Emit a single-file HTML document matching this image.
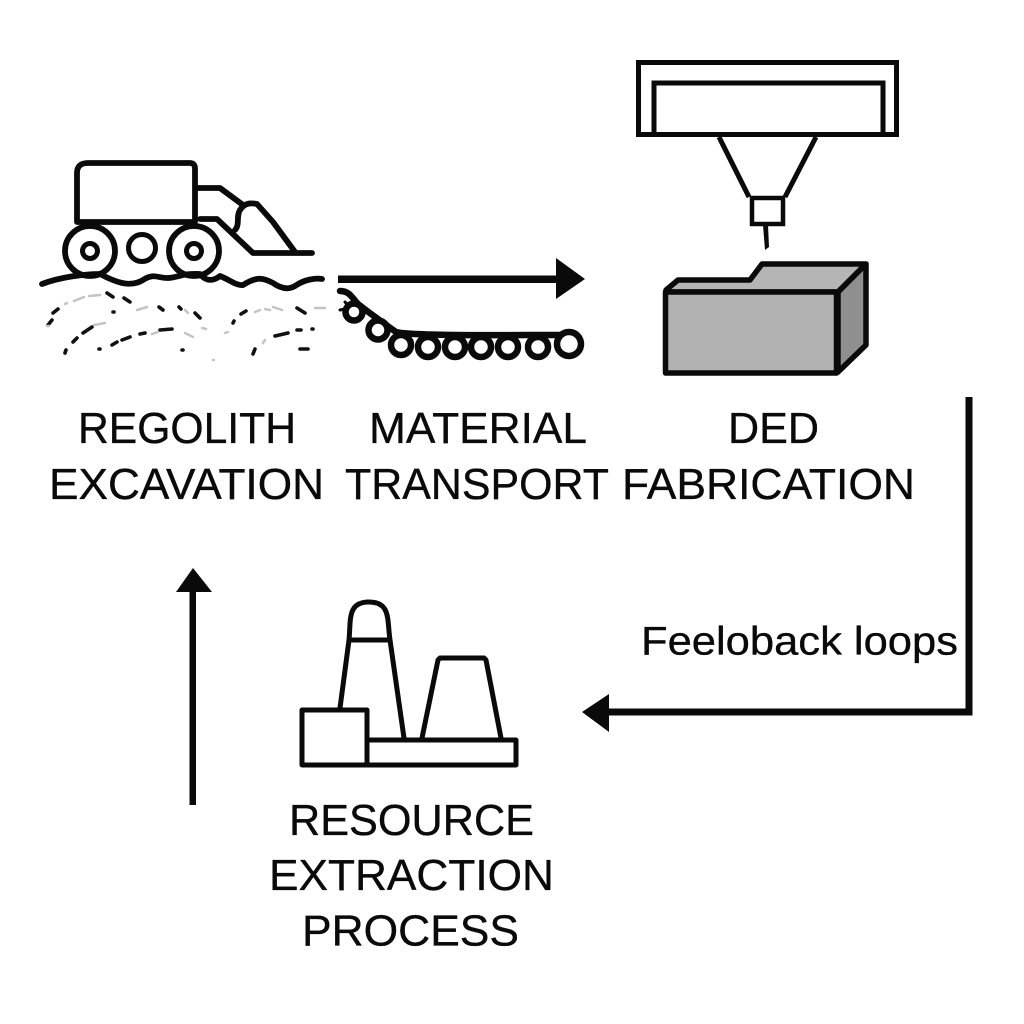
<!DOCTYPE html>
<html>
<head>
<meta charset="utf-8">
<style>
html,body{margin:0;padding:0;background:#fff;width:1024px;height:1024px;overflow:hidden}
svg{display:block}
text{font-family:"Liberation Sans",sans-serif;fill:#0a0a0a;stroke:#0a0a0a;stroke-width:.35px;font-size:44px}
</style>
</head>
<body>
<svg width="1024" height="1024" viewBox="0 0 1024 1024" xmlns="http://www.w3.org/2000/svg">
<rect width="1024" height="1024" fill="#fff"/>

<!-- Excavator -->
<g fill="none" stroke="#0a0a0a" stroke-width="5.800" stroke-linecap="round" stroke-linejoin="round">
  <path d="M77 222 V173 Q77 163 88 163 H190 Q195 163 195 169 V222 Z" fill="#fff"/>
  <circle cx="90" cy="251" r="25" fill="#fff"/>
  <circle cx="90" cy="251" r="7.500" stroke-width="5"/>
  <ellipse cx="142" cy="248" rx="13.500" ry="13.500" stroke-width="5"/>
  <circle cx="194" cy="251" r="25" fill="#fff"/>
  <circle cx="194" cy="251" r="7.500" stroke-width="5"/>
  <path d="M198 188 H220 L243 205"/>
  <path d="M200 219 H217 L253 253 H312"/>
  <path d="M235 230 C240 225 236 216 240 210 C245 202 252 203 257 204 L273 222 L295 252"/>
  <path d="M42 284 C60 277 85 274 100 274 C115 282 130 288 143 280 C153 273 158 278 167 278 C177 278 182 273 200 274 C207 283 215 280 220 276 C230 280 237 286 243 285 C256 277 262 277 273 283 C283 290 290 289 295 286 C305 279 316 278 322 279" stroke-width="5.800"/>
</g>

<!-- Regolith dashes -->
<g fill="none" stroke="#111" stroke-width="3.600" stroke-linecap="round">
  <path d="M53 313L58 309M107 293L113 297M124 298L130 302M159 307L163 310M113 312L114 312M179 307L181 309M195 313L200 318M48 325L52 320M233 323L234 321M241 314L246 311M297 308L305 313M83 333L92 327M73 342L77 338M65 353L66 350M99 349L100 349M112 345L117 342M122 340L130 337M140 334L145 333M160 330L172 329M182 350L183 350M253 354L255 349M275 336L288 333M297 330L301 330M312 329L313 329M300 349L308 349"/>
</g>
<g fill="none" stroke="#c4c4c4" stroke-width="2.500" stroke-linecap="round">
  <path d="M65 304L67 303M74 301L84 297M89 296L100 295M137 310L147 307M185 310L188 313M47 326L49 326M94 325L105 323M152 334L158 332M185 333L193 337M202 328L206 329M213 360L214 360M225 333L228 332M255 312L260 310M265 309L270 310M273 307L282 310M315 308L325 308M263 343L265 340"/>
</g>

<!-- Material transport arrow -->
<rect x="338" y="275.500" width="222" height="7.500" fill="#0a0a0a"/>
<polygon points="556,258 585,279 556,299" fill="#0a0a0a"/>

<!-- Chain -->
<g fill="none" stroke="#0a0a0a" stroke-width="6.500" stroke-linecap="round">
  <path d="M340 291 C350 291 352 298 358 304 C368 312 382 322 396 332 C410 336 500 335 560 335"/>
  <path d="M345 302 L350 308 L340 310" stroke-width="3"/>
  <circle cx="354" cy="312" r="8.500" fill="#fff"/>
  <circle cx="378" cy="330" r="9.500" fill="#fff"/>
  <circle cx="401" cy="345" r="10" fill="#fff"/>
  <circle cx="428" cy="347" r="10" fill="#fff"/>
  <circle cx="455" cy="347" r="10" fill="#fff"/>
  <circle cx="481" cy="347" r="10" fill="#fff"/>
  <circle cx="508" cy="347" r="10" fill="#fff"/>
  <circle cx="538" cy="347" r="10" fill="#fff"/>
  <circle cx="569" cy="344" r="12" fill="#fff"/>
</g>

<!-- DED printer -->
<g fill="none" stroke="#0a0a0a" stroke-width="5" stroke-linejoin="miter">
  <rect x="638.500" y="62.500" width="258" height="72"/>
  <path d="M654 135 V83 H883 V135"/>
  <path d="M719 137 L749 197"/>
  <path d="M816 137 L785 197"/>
  <rect x="752" y="198" width="31" height="26" stroke-width="4.500"/>
</g>
<polygon points="763,225 768,225 769,247 765,250" fill="#0a0a0a"/>

<!-- Block -->
<g stroke="#0a0a0a" stroke-width="5.500" stroke-linejoin="round">
  <polygon points="666,290 678,280 750,280 762,264 866,264 838,292 666,292" fill="#b5b5b5"/>
  <polygon points="838,292 866,264 866,345 838,372" fill="#8f8f8f"/>
  <rect x="665.500" y="292" width="171" height="81" fill="#b2b2b2"/>
</g>

<!-- Labels -->
<text x="78" y="443" textLength="218" lengthAdjust="spacingAndGlyphs">REGOLITH</text>
<text x="49" y="499" textLength="275" lengthAdjust="spacingAndGlyphs">EXCAVATION</text>
<text x="369" y="443" textLength="218" lengthAdjust="spacingAndGlyphs">MATERIAL</text>
<text x="345" y="499" textLength="264" lengthAdjust="spacingAndGlyphs">TRANSPORT</text>
<text x="728" y="443" textLength="91" lengthAdjust="spacingAndGlyphs">DED</text>
<text x="622" y="499" textLength="293" lengthAdjust="spacingAndGlyphs">FABRICATION</text>

<!-- Feedback connector -->
<path d="M969 397 V712 H606" fill="none" stroke="#0a0a0a" stroke-width="7"/>
<polygon points="582,712 609,694 609,732" fill="#0a0a0a"/>
<text x="641" y="654.500" textLength="317" lengthAdjust="spacingAndGlyphs" style="font-size:40px">Feeloback loops</text>

<!-- Up arrow -->
<rect x="189.500" y="590" width="6.500" height="215" fill="#0a0a0a"/>
<polygon points="193,568 176,592 212,592" fill="#0a0a0a"/>

<!-- Factory -->
<g fill="none" stroke="#0a0a0a" stroke-width="5" stroke-linejoin="round">
  <path d="M340 708 L349 640 C351 620 347 602 369 602 C391 602 387 620 390 640 L404 738"/>
  <path d="M349 640 H390"/>
  <path d="M422 738 L438 660 L440 658 H484 L486 660 L501 738"/>
  <rect x="367" y="740" width="149" height="25"/>
  <rect x="302" y="710" width="65" height="55" fill="#fff"/>
</g>

<text x="289" y="835" textLength="245" lengthAdjust="spacingAndGlyphs">RESOURCE</text>
<text x="269" y="890" textLength="285" lengthAdjust="spacingAndGlyphs">EXTRACTION</text>
<text x="302" y="945.500" textLength="217" lengthAdjust="spacingAndGlyphs">PROCESS</text>
</svg>
</body>
</html>
